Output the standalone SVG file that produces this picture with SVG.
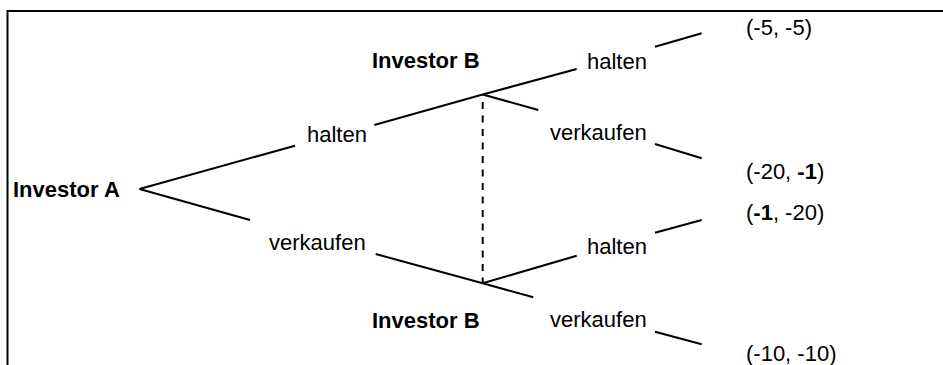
<svg xmlns="http://www.w3.org/2000/svg" width="943" height="365" viewBox="0 0 943 365">
<style>
.t{font-family:"Liberation Sans",Arial,sans-serif;font-size:22px;fill:#000}
.b{font-weight:bold}
.l{stroke:#000;stroke-width:2;fill:none}
.d{stroke:#000;stroke-width:2;fill:none;stroke-dasharray:7 6.5}
</style>
<rect width="943" height="365" fill="#fff"/>
<polyline class="l" points="7.5,365 7.5,11 943,11"/>
<g id="connectors">
<line class="l" x1="139.5" y1="189" x2="295" y2="145.7"/>
<line class="l" x1="374.3" y1="125" x2="482.7" y2="94.5"/>
<line class="l" x1="139.5" y1="189" x2="250" y2="220"/>
<line class="l" x1="375.7" y1="254" x2="482.7" y2="283.3"/>
<line class="l" x1="482.7" y1="94.5" x2="576.7" y2="69"/>
<line class="l" x1="655" y1="46.7" x2="701.7" y2="33.3"/>
<line class="l" x1="482.7" y1="94.5" x2="538.3" y2="110"/>
<line class="l" x1="655" y1="144" x2="701.7" y2="158.3"/>
<line class="l" x1="482.7" y1="283.3" x2="576.7" y2="255.7"/>
<line class="l" x1="655" y1="232.7" x2="701.7" y2="220"/>
<line class="l" x1="482.7" y1="283.3" x2="533.3" y2="297.3"/>
<line class="l" x1="655" y1="331.7" x2="701.7" y2="344.3"/>
<line class="d" x1="482.7" y1="102" x2="482.7" y2="283"/>
</g>
<g id="investorA"><text class="t b" x="13" y="197">Investor A</text></g>
<g id="investorB1"><text class="t b" x="372" y="68">Investor B</text></g>
<g id="investorB2"><text class="t b" x="372" y="328">Investor B</text></g>
<g id="a-halten"><text class="t" x="307" y="142">halten</text></g>
<g id="a-verkaufen"><text class="t" x="269" y="250">verkaufen</text></g>
<g id="b1-halten"><text class="t" x="587" y="68.5">halten</text></g>
<g id="b1-verkaufen"><text class="t" x="550" y="140">verkaufen</text></g>
<g id="b2-halten"><text class="t" x="587" y="254">halten</text></g>
<g id="b2-verkaufen"><text class="t" x="550" y="327">verkaufen</text></g>
<g id="payoff1"><text class="t" x="746" y="34.5">(-5, -5)</text></g>
<g id="payoff2"><text class="t" x="746" y="178.5">(-20, <tspan class="b">-1</tspan>)</text></g>
<g id="payoff3"><text class="t" x="746" y="220">(<tspan class="b">-1</tspan>, -20)</text></g>
<g id="payoff4"><text class="t" x="746" y="361">(-10, -10)</text></g>
</svg>
